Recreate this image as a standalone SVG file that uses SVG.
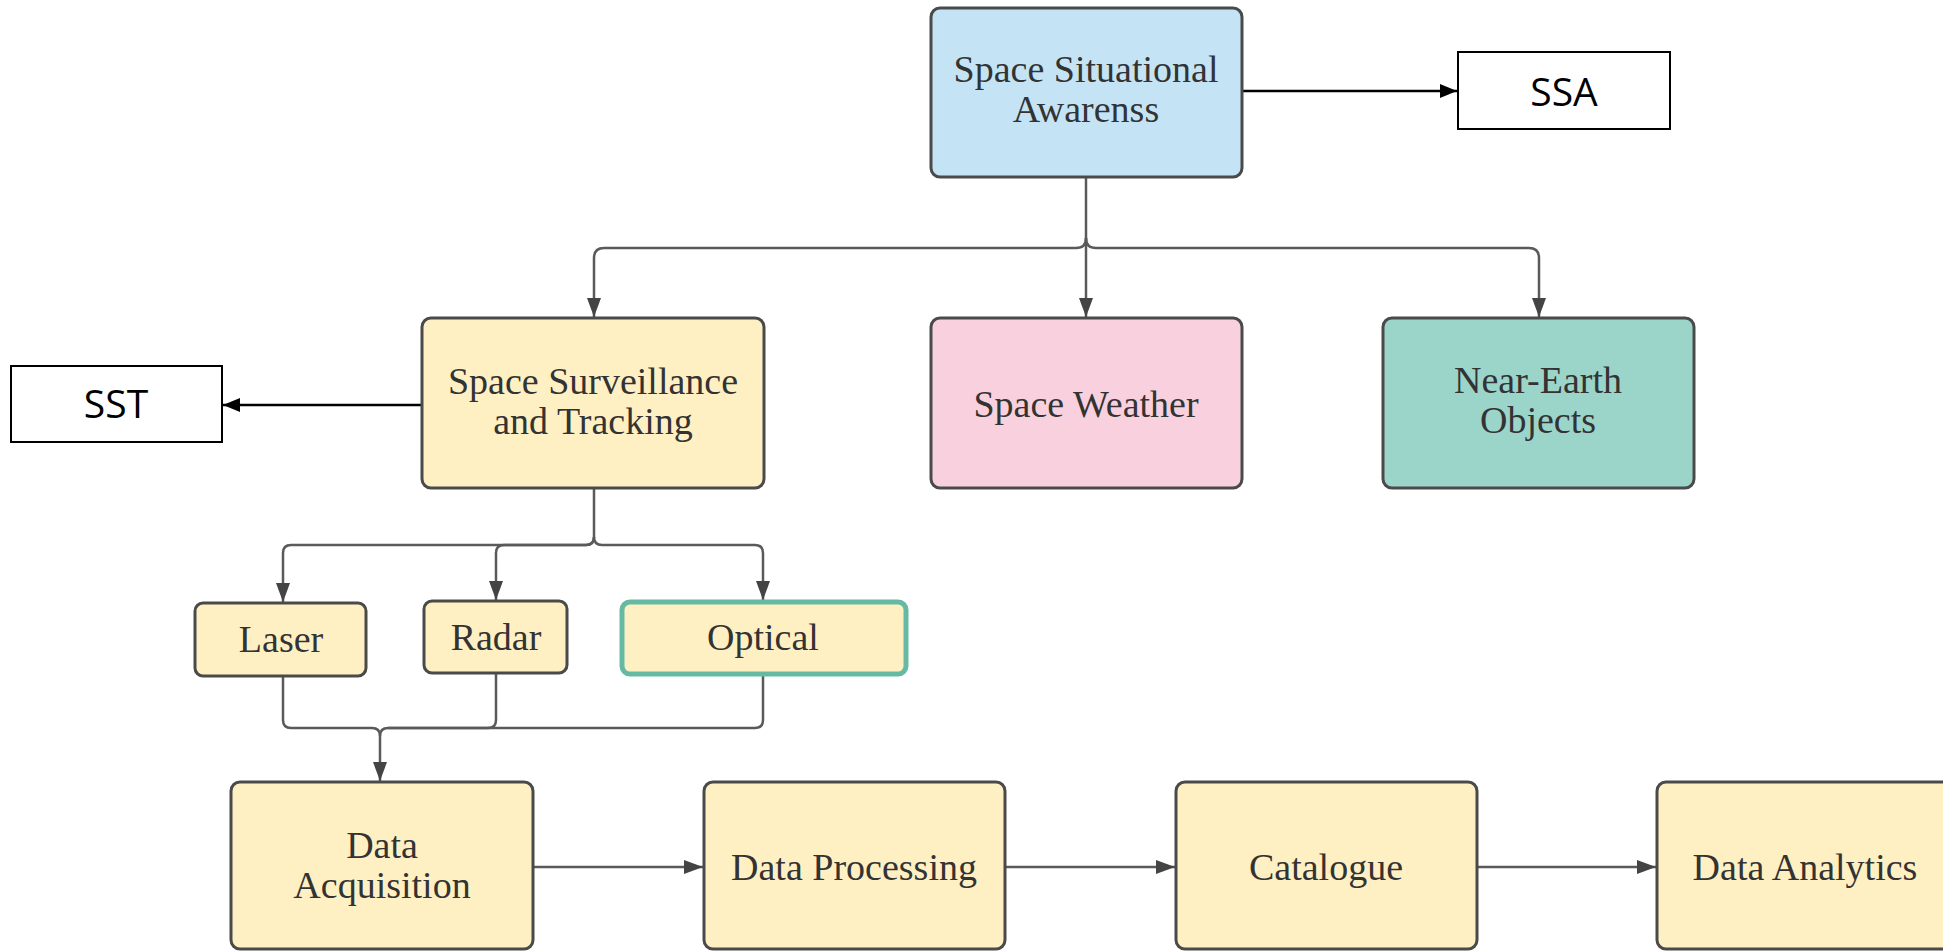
<svg xmlns="http://www.w3.org/2000/svg" width="1943" height="951" viewBox="0 0 1943 951">
<style>
.n{stroke:#4a4a4a;stroke-width:3}
.blue{fill:#c4e4f6}.yel{fill:#fff0c3}.pink{fill:#f9d1de}.teal{fill:#9bd5ca}
.t{font-family:"Liberation Serif","Times New Roman",serif;font-size:38px;fill:#333;text-anchor:middle}
.s{font-family:"Open Sans","Liberation Sans",sans-serif;font-size:39px;fill:#000;text-anchor:middle}
.box{fill:#fff;stroke:#000;stroke-width:2}
.c{fill:none;stroke:#5a5a5a;stroke-width:2.5}
.k{fill:none;stroke:#000;stroke-width:2.5}
</style>
<defs>
<marker id="ag" markerWidth="19" markerHeight="14" refX="19" refY="7" orient="auto" markerUnits="userSpaceOnUse"><path d="M0,0 L19,7 L0,14 Z" fill="#444"/></marker>
<marker id="ak" markerWidth="17" markerHeight="14" refX="17" refY="7" orient="auto" markerUnits="userSpaceOnUse"><path d="M0,0 L17,7 L0,14 Z" fill="#000"/></marker>
</defs>
<g id="connectors">
<path class="k" d="M1242,91 H1457" marker-end="url(#ak)"/>
<path class="k" d="M421,405 H223" marker-end="url(#ak)"/>
<path class="c" d="M1086,178 V317" marker-end="url(#ag)"/>
<path class="c" d="M1086,238 Q1086,248 1076,248 H604 Q594,248 594,258 V317" marker-end="url(#ag)"/>
<path class="c" d="M1086,238 Q1086,248 1096,248 H1529 Q1539,248 1539,258 V317" marker-end="url(#ag)"/>
<path class="c" d="M594,489 V537 Q594,545 586,545 H291 Q283,545 283,553 V602" marker-end="url(#ag)"/>
<path class="c" d="M594,537 Q594,545 586,545 H504 Q496,545 496,553 V600" marker-end="url(#ag)"/>
<path class="c" d="M594,537 Q594,545 602,545 H755 Q763,545 763,553 V600" marker-end="url(#ag)"/>
<path class="c" d="M283,677 V720 Q283,728 291,728 H372 Q380,728 380,736 V781" marker-end="url(#ag)"/>
<path class="c" d="M496,674 V720 Q496,728 488,728 H388 Q380,728 380,736"/>
<path class="c" d="M763,676 V720 Q763,728 755,728 H388"/>
<path class="c" d="M533,867 H703" marker-end="url(#ag)"/>
<path class="c" d="M1005,867 H1175" marker-end="url(#ag)"/>
<path class="c" d="M1477,867 H1656" marker-end="url(#ag)"/>
</g>
<g id="ssa-main"><rect class="n blue" x="931" y="8" width="311" height="169" rx="9"/><text class="t" x="1086" y="82">Space Situational</text><text class="t" x="1086" y="122">Awarenss</text></g>
<g id="ssa-label"><rect class="box" x="1458" y="52" width="212" height="77"/><text class="s" x="1564" y="106">SSA</text></g>
<g id="sst-main"><rect class="n yel" x="422" y="318" width="342" height="170" rx="9"/><text class="t" x="593" y="394">Space Surveillance</text><text class="t" x="593" y="434">and Tracking</text></g>
<g id="sst-label"><rect class="box" x="11" y="366" width="211" height="76"/><text class="s" x="116" y="418">SST</text></g>
<g id="space-weather"><rect class="n pink" x="931" y="318" width="311" height="170" rx="9"/><text class="t" x="1086" y="417">Space Weather</text></g>
<g id="neo"><rect class="n teal" x="1383" y="318" width="311" height="170" rx="9"/><text class="t" x="1538" y="393">Near-Earth</text><text class="t" x="1538" y="433">Objects</text></g>
<g id="laser"><rect class="n yel" x="195" y="603" width="171" height="73" rx="8"/><text class="t" x="281" y="652">Laser</text></g>
<g id="radar"><rect class="n yel" x="424" y="601" width="143" height="72" rx="8"/><text class="t" x="496" y="650">Radar</text></g>
<g id="optical"><rect class="yel" x="622" y="602" width="284" height="72" rx="8" stroke="#66b9a2" stroke-width="5"/><text class="t" x="763" y="650">Optical</text></g>
<g id="data-acquisition"><rect class="n yel" x="231" y="782" width="302" height="167" rx="9"/><text class="t" x="382" y="858">Data</text><text class="t" x="382" y="898">Acquisition</text></g>
<g id="data-processing"><rect class="n yel" x="704" y="782" width="301" height="167" rx="9"/><text class="t" x="854" y="880">Data Processing</text></g>
<g id="catalogue"><rect class="n yel" x="1176" y="782" width="301" height="167" rx="9"/><text class="t" x="1326" y="880">Catalogue</text></g>
<g id="data-analytics"><rect class="n yel" x="1657" y="782" width="302" height="167" rx="9"/><text class="t" x="1805" y="880">Data Analytics</text></g>
</svg>
